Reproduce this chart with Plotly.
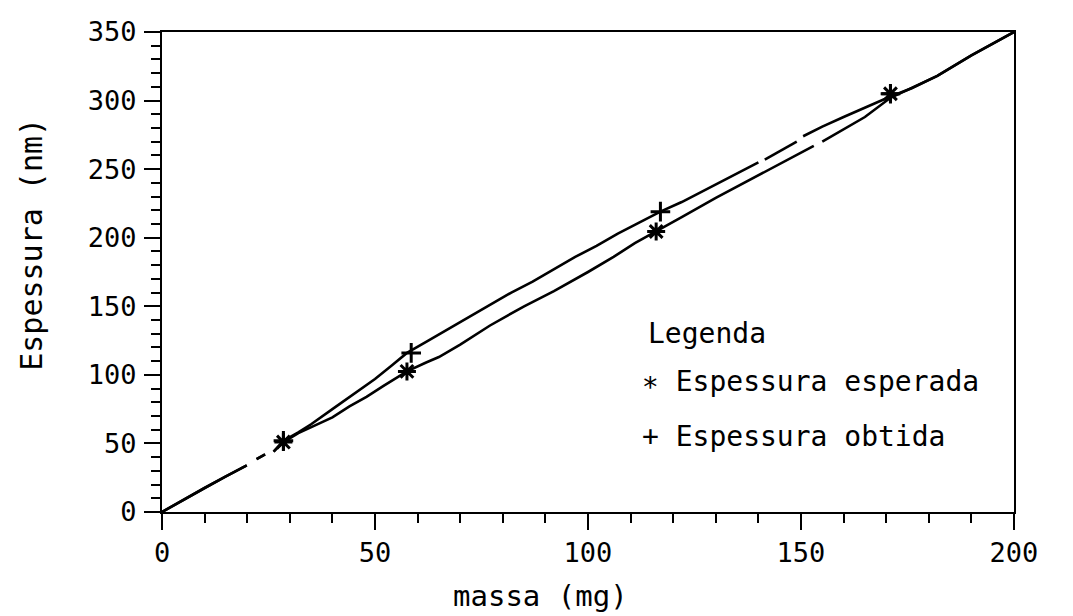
import plotly.graph_objects as go

# ---- data ----
x_esperada = [0, 5, 10, 15, 19.9, None, 22.2, 24.2, None, 26.2, 28.5, 32, 36, 40, 44, 48, 52,
              57.5, 62, 65, 70, 77, 85, 92, 100, 106, 111, 116, 122, 130, 136, 142, 148, 153,
              None, 155, 160, 165, 171, 176, 182, 190, 200]
y_esperada = [0, 9, 17.5, 26, 34, None, 38.5, 42, None, 44, 51, 57.5, 63, 69, 77, 84, 92,
              102.5, 109, 113, 122, 136, 150, 161, 175, 186, 196, 204.5, 215, 229, 239, 249, 259, 267,
              None, 270, 279, 288, 302, 309, 318, 333, 350]

x_obtida = [0, 5, 10, 15, 19.9, None, 22.2, 24.2, None, 26.2, 28.5, 32, 35, 40, 45, 50, 54,
            57.5, 62, 67, 72, 77, 82, 87, 92, 97, 102, 107, 112, 117, 122, 127, 132, 137, 140,
            None, 141.5, 149, None, 150.5, 155, 160, 165, 171, 176, 182, 190, 200]
y_obtida = [0, 9, 17.5, 26, 34, None, 38.5, 42, None, 44, 52, 58, 64, 75, 86, 97, 107,
            116, 124, 133, 142, 151, 160, 168, 177, 186, 194, 203, 211, 219, 226, 234, 242, 250, 255,
            None, 257, 270, None, 274, 281, 288, 295, 303, 309, 318, 333, 350]

marcas_x_esperada = [28.5, 57.5, 116, 171]
marcas_y_esperada = [51, 102.5, 204.5, 305]
marcas_x_obtida = [28.5, 58.5, 117, 171]
marcas_y_obtida = [52, 116, 219, 305]

x_ticks = [0, 50, 100, 150, 200]
y_ticks = [0, 50, 100, 150, 200, 250, 300, 350]

FONT = "DejaVu Sans Mono"

fig = go.Figure()
fig.add_trace(go.Scatter(x=x_esperada, y=y_esperada, mode="lines",
                         line=dict(color="black", width=2.6), showlegend=False, connectgaps=False))
fig.add_trace(go.Scatter(x=x_obtida, y=y_obtida, mode="lines",
                         line=dict(color="black", width=2.6), showlegend=False, connectgaps=False))
fig.add_trace(go.Scatter(x=marcas_x_esperada, y=marcas_y_esperada, mode="markers",
                         marker=dict(symbol="asterisk", size=15, color="black",
                                     line=dict(color="black", width=3)), showlegend=False))
fig.add_trace(go.Scatter(x=marcas_x_obtida, y=marcas_y_obtida, mode="markers",
                         marker=dict(symbol="cross-thin", size=14, color="black",
                                     line=dict(color="black", width=3)), showlegend=False))

W, H = 1073, 616
L, R, T, B = 162, 59, 32, 103.5
pw, ph = W - L - R, H - T - B

def px(xp):
    return (xp - L) / pw

def py(yp):
    return (H - B - yp) / ph

axis_common = dict(showgrid=False, zeroline=False, showline=True, linecolor="black",
                   linewidth=2, mirror=True, ticks="outside", ticklen=16, tickwidth=2,
                   tickcolor="black", tickfont=dict(family=FONT, size=27, color="black"))

fig.update_xaxes(range=[0, 200], tickvals=x_ticks, ticktext=[str(v) for v in x_ticks],
                 minor=dict(dtick=10, tick0=0, ticks="outside", ticklen=9, tickwidth=2,
                            tickcolor="black"),
                 ticklabelstandoff=0, **axis_common)
fig.update_yaxes(range=[0, 350], tickvals=y_ticks, ticktext=[str(v) for v in y_ticks],
                 minor=dict(dtick=10, tick0=0, ticks="outside", ticklen=9, tickwidth=2,
                            tickcolor="black"),
                 ticklabelstandoff=2, **axis_common)

ann_font = dict(family=FONT, size=28, color="black")
annotations = [
    dict(text="massa (mg)", x=px(540), y=py(597), xref="paper", yref="paper",
         showarrow=False, font=dict(family=FONT, size=29, color="black"),
         xanchor="center", yanchor="middle"),
    dict(text="Espessura (nm)", x=px(32), y=py(245), xref="paper", yref="paper",
         showarrow=False, font=dict(family=FONT, size=30, color="black"),
         textangle=-90, xanchor="center", yanchor="middle"),
    dict(text="Legenda", x=px(646), y=py(334), xref="paper", yref="paper",
         showarrow=False, font=ann_font, xanchor="left", yanchor="middle"),
    dict(text="\u2217 Espessura esperada", x=px(640), y=py(382), xref="paper", yref="paper",
         showarrow=False, font=ann_font, xanchor="left", yanchor="middle"),
    dict(text="+ Espessura obtida", x=px(640), y=py(437), xref="paper", yref="paper",
         showarrow=False, font=ann_font, xanchor="left", yanchor="middle"),
]

fig.update_layout(width=W, height=H, margin=dict(l=L, r=R, t=T, b=B, pad=0),
                  paper_bgcolor="white", plot_bgcolor="white",
                  annotations=annotations, showlegend=False)

fig.write_html("out.html")
